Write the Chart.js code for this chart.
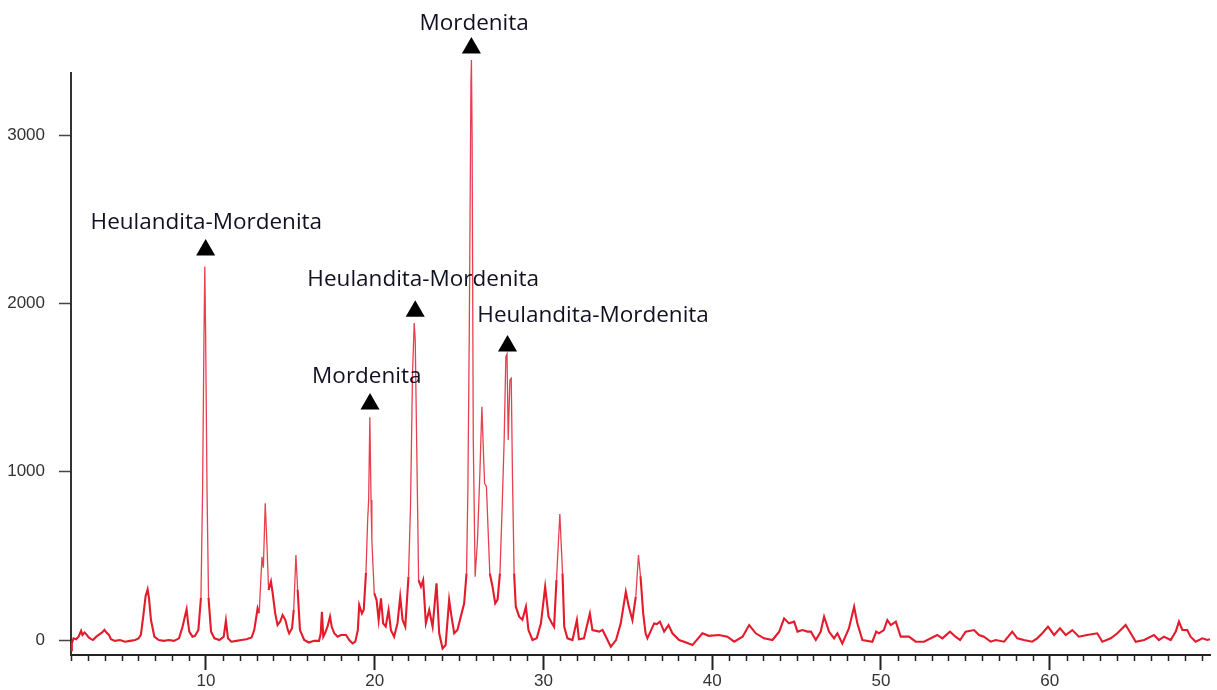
<!DOCTYPE html>
<html>
<head>
<meta charset="utf-8">
<title>DRX</title>
<script src="https://cdn.jsdelivr.net/npm/chart.js@4.4.0/dist/chart.umd.min.js"></script>
<style>
    html, body { margin: 0; padding: 0; background: #fff; }
    #wrap { width: 1217px; height: 690px; position: relative; }
</style>
</head>
<body>
<div id="wrap"><canvas id="xrdChart"></canvas></div>
<script>
// 2-theta positions and counts
const twoTheta = [
    2.0, 2.05, 2.15, 2.3, 2.45, 2.6, 2.68, 2.8, 2.9, 3.05, 3.2, 3.3, 3.5, 3.7, 3.85, 3.98, 4.1, 4.25, 4.37, 4.6,
    4.9, 5.2, 5.5, 5.8, 6.0, 6.14, 6.28, 6.42, 6.54, 6.62, 6.74, 6.94, 7.2, 7.5, 7.8, 8.1, 8.4, 8.61, 8.75, 8.85,
    8.93, 9.01, 9.2, 9.35, 9.55, 9.7, 9.8, 9.88, 9.93, 9.98, 10.06, 10.15, 10.3, 10.5, 10.8, 11.05, 11.18, 11.3, 11.5, 11.8,
    12.1, 12.4, 12.7, 12.86, 13.06, 13.15, 13.32, 13.4, 13.51, 13.6, 13.71, 13.85, 13.95, 14.1, 14.24, 14.4, 14.54, 14.7, 14.85, 14.93,
    15.1, 15.2, 15.33, 15.43, 15.57, 15.82, 16.1, 16.4, 16.7, 16.8, 16.87, 16.95, 17.05, 17.2, 17.35, 17.45, 17.6, 17.8, 18.0, 18.3,
    18.49, 18.69, 18.85, 19.0, 19.08, 19.24, 19.35, 19.48, 19.58, 19.64, 19.71, 19.78, 19.83, 19.97, 20.11, 20.23, 20.37, 20.5, 20.65, 20.82,
    20.96, 21.15, 21.35, 21.51, 21.65, 21.81, 22.0, 22.12, 22.24, 22.34, 22.4, 22.48, 22.54, 22.6, 22.74, 22.87, 23.03, 23.23, 23.43, 23.66,
    23.82, 24.02, 24.2, 24.41, 24.55, 24.71, 24.9, 25.1, 25.3, 25.44, 25.52, 25.6, 25.7, 25.73, 25.77, 25.84, 25.92, 25.95, 26.09, 26.23,
    26.35, 26.43, 26.51, 26.62, 26.72, 26.82, 26.98, 27.14, 27.28, 27.42, 27.54, 27.67, 27.77, 27.84, 27.91, 28.01, 28.09, 28.16, 28.26, 28.36,
    28.56, 28.75, 28.96, 29.11, 29.35, 29.6, 29.85, 30.1, 30.3, 30.5, 30.63, 30.77, 30.97, 31.13, 31.23, 31.42, 31.72, 31.98, 32.1, 32.4,
    32.75, 32.9, 33.3, 33.5, 33.7, 33.99, 34.3, 34.58, 34.88, 35.05, 35.27, 35.47, 35.63, 35.75, 35.91, 36.05, 36.16, 36.56, 36.72, 36.9,
    37.15, 37.41, 37.64, 38.04, 38.45, 38.83, 39.42, 39.8, 40.4, 40.9, 41.3, 41.8, 42.19, 42.58, 43.07, 43.57, 43.97, 44.26, 44.55, 44.86,
    45.05, 45.35, 45.65, 45.85, 46.14, 46.43, 46.63, 46.92, 47.22, 47.42, 47.71, 48.1, 48.41, 48.6, 48.9, 49.49, 49.72, 49.88, 50.17, 50.38,
    50.58, 50.88, 51.17, 51.66, 52.06, 52.55, 53.34, 53.64, 54.09, 54.42, 54.69, 55.02, 55.52, 55.81, 56.1, 56.5, 56.8, 57.3, 57.78, 58.08,
    58.47, 58.96, 59.26, 59.56, 59.9, 60.26, 60.61, 60.95, 61.34, 61.73, 62.22, 62.82, 63.12, 63.62, 64.01, 64.5, 64.8, 65.1, 65.6, 66.18,
    66.47, 66.77, 67.17, 67.47, 67.66, 67.86, 68.15, 68.35, 68.65, 69.05, 69.33, 69.5
];
const counts = [
    -60, -20, 10, 5, 20, 55, 30, 45, 35, 15, 5, 0, 20, 35, 45, 60, 45, 30, 5, -5,
    0, -10, -5, 0, 10, 30, 139, 260, 301, 250, 119, 20, 0, -5, 0, -5, 10, 79, 140, 182,
    110, 50, 20, 25, 60, 250, 900, 1800, 2220, 1800, 900, 250, 50, 10, 0, 20, 115, 10, -10, -5,
    0, 5, 15, 59, 188, 160, 495, 430, 812, 600, 297, 347, 280, 160, 89, 110, 149, 120, 60, 40,
    70, 180, 505, 300, 59, 0, -15, -5, -5, 40, 168, 20, 40, 79, 139, 80, 40, 20, 30, 30,
    0, -20, -10, 60, 208, 158, 180, 398, 713, 832, 1323, 832, 594, 279, 238, 119, 248, 99, 80, 178,
    59, 20, 100, 257, 120, 79, 376, 792, 1585, 1883, 1782, 1208, 792, 356, 317, 356, 99, 178, 79, 337,
    40, -50, -30, 238, 139, 40, 60, 139, 218, 396, 891, 1782, 3300, 3446, 3000, 1188, 594, 376, 594, 990,
    1386, 1148, 931, 911, 650, 396, 317, 218, 240, 396, 753, 1188, 1683, 1700, 1188, 1545, 1555, 990, 396, 198,
    139, 120, 198, 59, 0, 10, 99, 317, 139, 100, 79, 356, 749, 396, 79, 10, 0, 119, 5, 10,
    158, 59, 50, 60, 20, -40, 0, 99, 287, 200, 119, 257, 505, 380, 158, 40, 10, 99, 95, 109,
    50, 89, 40, 0, -15, -30, 40, 25, 30, 20, -10, 20, 89, 40, 10, 0, 50, 129, 99, 109,
    50, 59, 50, 50, 0, 50, 139, 50, 10, 40, -20, 69, 198, 99, 0, -10, 50, 40, 59, 119,
    89, 109, 20, 20, -10, -10, 30, 10, 50, 20, 0, 50, 59, 30, 20, -10, 0, -10, 50, 10,
    0, -10, 10, 40, 79, 30, 69, 30, 59, 20, 30, 40, -10, 10, 40, 89, 40, -10, 0, 30,
    0, 20, 0, 50, 109, 60, 59, 20, -10, 10, 0, 5
];

const yTickValues = [0, 1000, 2000, 3000];

// phase annotations: triangle marker and label, in data units
const phaseNames = ['Heulandita-Mordenita', 'Mordenita', 'Heulandita-Mordenita', 'Mordenita', 'Heulandita-Mordenita'];
const markerX = [9.98, 19.72, 22.40, 25.73, 27.87];
const markerY = [2317, 1402, 1954, 3517, 1747];
const labelX = [10.02, 19.53, 22.87, 25.89, 32.94];
const labelY = [2483, 1568, 2139, 3660, 1925];

document.addEventListener('DOMContentLoaded', function() {
    const ctx = document.getElementById('xrdChart');

    // short unlabelled ticks every degree
    const minorTicks = {
        id: 'minorTicks',
        afterDraw(chart) {
            const xs = chart.scales.x;
            const c = chart.ctx;
            const bottom = chart.chartArea.bottom;
            c.save();
            c.strokeStyle = '#222';
            c.lineWidth = 1.5;
            xs.ticks.forEach(t => {
                if (!Number.isInteger(t.value) || t.value % 10 === 0) return;
                const px = Math.round(xs.getPixelForValue(t.value)) + 0.5;
                c.beginPath();
                c.moveTo(px, bottom);
                c.lineTo(px, bottom + 6);
                c.stroke();
            });
            c.restore();
        }
    };

    // black triangles and phase names
    const phaseLabels = {
        id: 'phaseLabels',
        afterDraw(chart) {
            const xs = chart.scales.x;
            const ys = chart.scales.y;
            const c = chart.ctx;
            const r = 11;
            c.save();
            c.fillStyle = '#000';
            markerX.forEach((mx, i) => {
                const cx = xs.getPixelForValue(mx);
                const cy = ys.getPixelForValue(markerY[i]);
                c.beginPath();
                c.moveTo(cx, cy - r);
                c.lineTo(cx + r * 0.866, cy + r / 2);
                c.lineTo(cx - r * 0.866, cy + r / 2);
                c.closePath();
                c.fill();
            });
            c.fillStyle = '#111122';
            c.font = '22.5px "Open Sans", "Noto Sans", sans-serif';
            c.textAlign = 'center';
            c.textBaseline = 'middle';
            phaseNames.forEach((name, i) => {
                c.fillText(name, xs.getPixelForValue(labelX[i]), ys.getPixelForValue(labelY[i]));
            });
            c.restore();
        }
    };

    // noisy baseline reads thicker than the narrow peaks
    const isTall = c => Math.max(c.p0.parsed.y, c.p1.parsed.y) > 400;

    new Chart(ctx, {
        type: 'line',
        data: {
            datasets: [{
                data: twoTheta.map((x, i) => ({ x: x, y: counts[i] })),
                borderColor: '#e4202f',
                borderWidth: 2,
                pointRadius: 0,
                tension: 0,
                fill: false,
                clip: false,
                segment: {
                    borderWidth: c => isTall(c) ? 1.3 : 2.1,
                    borderColor: c => isTall(c) ? '#e8404f' : '#e31b2b'
                }
            }]
        },
        options: {
            responsive: true,
            maintainAspectRatio: false,
            animation: false,
            events: [],
            layout: { padding: { top: 73, right: 7, left: 0, bottom: 0 } },
            plugins: {
                legend: { display: false },
                tooltip: { enabled: false }
            },
            scales: {
                x: {
                    type: 'linear',
                    min: 2,
                    max: 69.5,
                    afterFit: function(scale) { scale.height = 35; },
                    border: { color: '#222', width: 2 },
                    grid: {
                        drawOnChartArea: false,
                        tickLength: 15,
                        tickWidth: 2,
                        tickColor: function(c) {
                            return c.tick && c.tick.value % 10 === 0 ? '#222' : 'rgba(0,0,0,0)';
                        }
                    },
                    ticks: {
                        stepSize: 1,
                        autoSkip: false,
                        includeBounds: false,
                        maxRotation: 0,
                        padding: 1,
                        color: '#333',
                        font: { family: '"Liberation Sans", Arial, sans-serif', size: 17 },
                        callback: function(v) { return v % 10 === 0 ? String(v) : ''; }
                    }
                },
                y: {
                    min: -89,
                    max: 3369,
                    afterFit: function(scale) { scale.width = 71; },
                    afterBuildTicks: function(scale) {
                        scale.ticks = yTickValues.map(v => ({ value: v }));
                    },
                    border: { color: '#333', width: 2 },
                    grid: {
                        drawOnChartArea: false,
                        tickLength: 12,
                        tickWidth: 1.5,
                        tickColor: '#444'
                    },
                    ticks: {
                        padding: 14,
                        color: '#333',
                        font: { family: '"Liberation Sans", Arial, sans-serif', size: 17 },
                        callback: function(v) { return String(v); }
                    }
                }
            }
        },
        plugins: [minorTicks, phaseLabels]
    });
});
</script>
</body>
</html>
